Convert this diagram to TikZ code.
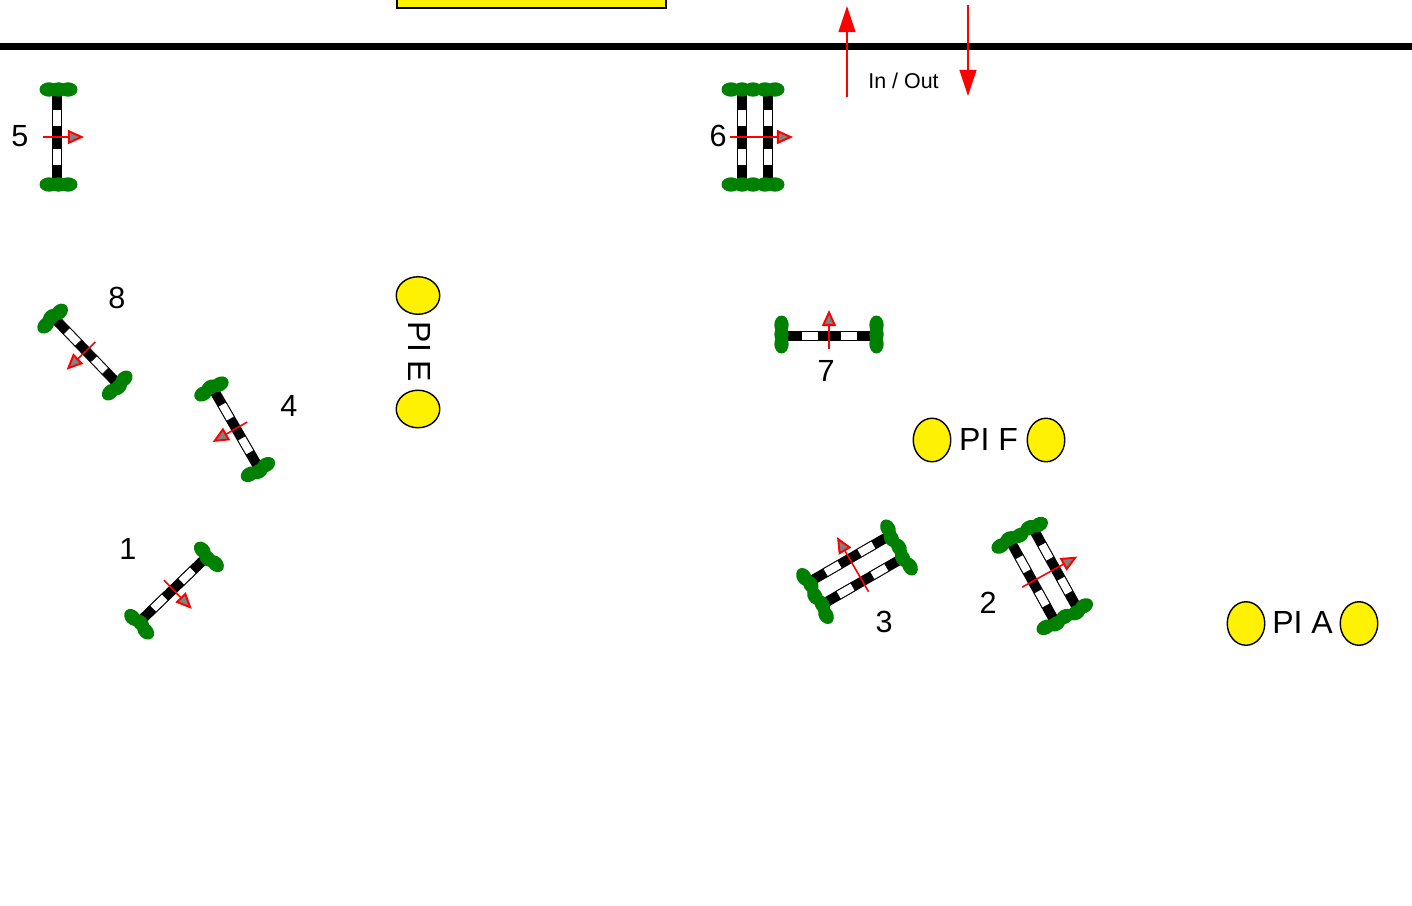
\documentclass[tikz,border=0pt]{standalone}
\usepackage{fontspec}
\setmainfont{Liberation Sans}
\usepackage{tikz}
\usetikzlibrary{positioning,shapes.geometric,arrows.meta}

% #1 name, #2 centre, #3 direction of jumping, #4 rail offsets, #5 rear, #6 tip, #7 bush offsets
\newcommand{\railjump}[7]{
  \begin{scope}[shift={(#2)},rotate=#3]
    \foreach \railx in {#4} {
      \fill [black] (\railx-5,-45) rectangle (\railx+5,45);
      \foreach \whitey in {-28,11} {
        \filldraw [fill=white,draw=black,line width=0.2pt] (\railx-4.4,\whitey) rectangle (\railx+4.4,\whitey+17);
      }
    }
    \foreach \bushx/\bushy in {#7} {
      \fill [bush] (\bushx,-47.5+\bushy) ellipse (9.5 and 7.2);
      \fill [bush] (\bushx,47.5-\bushy) ellipse (9.5 and 7.2);
    }
    \coordinate (#1rear) at (#5,0);
    \coordinate (#1tip) at (#6,0);
    \draw [jumpline] (#1rear) -- (#1tip);
  \end{scope}
}

\begin{document}
\begin{tikzpicture}[x=0.01cm,y=-0.01cm]
  \tikzset{bush/.style={fill={rgb,255:red,0;green,128;blue,0}}}
  \tikzset{jumpline/.style={red, line width=0.45pt, -{Triangle[length=4.6pt,width=4pt,fill=gray,line width=0.55pt]}}}
  \tikzset{gateline/.style={red, line width=0.45pt, -{Triangle[length=7.4pt,width=4.8pt,fill=red]}}}
  \tikzset{post/.style={draw, ellipse, fill=yellow, line width=0.4pt, minimum width=0.375cm, minimum height=0.435cm, inner sep=0pt}}
  \tikzset{number/.style={font=\fontsize{8.7pt}{10pt}\selectfont, inner sep=0pt}}
  \tikzset{pilabel/.style={font=\fontsize{9.1pt}{11pt}\selectfont, inner sep=0pt}}
  \useasboundingbox (0,0) rectangle (1412,906);

  % arena side and gate
  \coordinate (sideL) at (0,46.5);
  \coordinate (sideR) at (1412,46.5);
  \draw [line width=1.85pt] (sideL) -- (sideR);
  \node [draw, fill=yellow, line width=0.4pt, minimum width=2.69cm, minimum height=0.3cm, inner sep=0pt] (judge) at (531.5,-7) {};

  \coordinate (inrear) at (847,97);
  \coordinate (intip) at (847,6);
  \coordinate (outrear) at (968,5);
  \coordinate (outtip) at (968,96);
  \draw [gateline] (inrear) -- (intip);
  \draw [gateline] (outrear) -- (outtip);
  \node [font=\fontsize{6.1pt}{7pt}\selectfont, inner sep=0pt] (inout) at (903.5,81) {In / Out};

  % jumps
  \railjump{jumpA}{173,589.5}{-46}{0}{-13}{27}{-8/-1,1.5/1,11/-1}
  \railjump{jumpB}{1044,575}{29}{-13,13}{-25}{38}{-24/1,-13/-1,-2/1,10/-1,20/1}
  \railjump{jumpC}{856,570}{120}{-13,13}{-25}{38}{-24/-1,-13/1,-2/-1,10/1,20/-1}
  \railjump{jumpD}{236,428.5}{-150}{0}{-13}{27}{-8/1,1.5/-1,11/1}
  \railjump{jumpE}{57,137}{0}{0}{-14}{27}{-8/0,1.5/0,11/0}
  \railjump{jumpF}{755,137}{0}{-13,13}{-25}{38}{-24/0,-13/0,-2/0,10/0,20/0}
  \railjump{jumpG}{829,336}{90}{0}{-13}{26}{-8/0,1.5/0,11/0}
  \railjump{jumpH}{86,351}{-136}{0}{-13}{27}{-8/1,1.5/-1,11/1}

  \node [number] (numA) at (128,549) {1};
  \node [number] (numB) at (988,603) {2};
  \node [number] (numC) at (884,622) {3};
  \node [number] (numD) at (289,406) {4};
  \node [number] (numE) at (20,136) {5};
  \node [number] (numF) at (718,136) {6};
  \node [number] (numG) at (826,371) {7};
  \node [number] (numH) at (117,298) {8};

  % pillars
  \node [post, rotate=90] (piE1) at (418,295.5) {};
  \node [post, rotate=90] (piE2) at (418,409) {};
  \node [pilabel, rotate=-90] (piE) at (419.5,352) {PI E};

  \node [post] (piF1) at (932,440) {};
  \node [post] (piF2) at (1046,440) {};
  \node [pilabel] (piF) at (988.5,439) {PI F};

  \node [post] (piA1) at (1246,623.5) {};
  \node [post] (piA2) at (1359,623.5) {};
  \node [pilabel] (piA) at (1302.5,622) {PI A};
\end{tikzpicture}
\end{document}
